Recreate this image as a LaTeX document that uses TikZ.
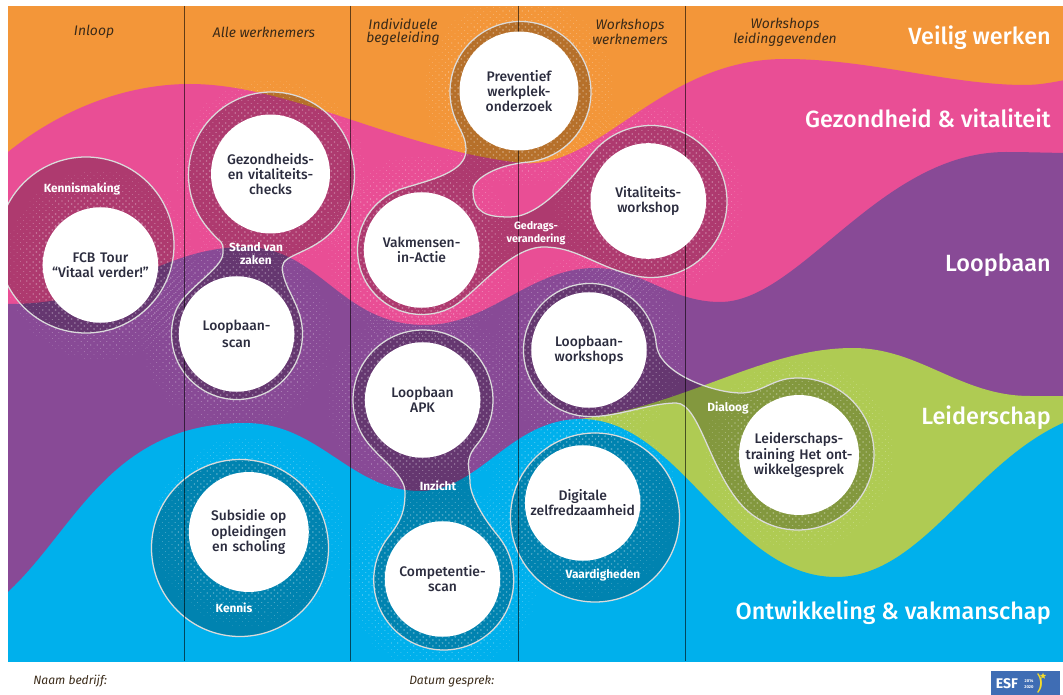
\documentclass[tikz,border=0pt]{standalone}
\usepackage{fontspec}
\usetikzlibrary{calc,shapes.geometric}
\setmainfont{Fira Sans}
\newfontfamily\medf{Fira Sans Medium}
\definecolor{corange}{HTML}{F39639}
\definecolor{cpink}{HTML}{E94E95}
\definecolor{cpurple}{HTML}{884A96}
\definecolor{cblue}{HTML}{00B0EC}
\definecolor{cgreen}{HTML}{AFCB53}
\definecolor{cink}{HTML}{2B2C3E}
\definecolor{chead}{HTML}{3A2A18}
\definecolor{cesf}{HTML}{3F6DB4}
\definecolor{cstar}{HTML}{F5DC2A}
\tikzset{
  blobfill/.style={fill=black,fill opacity=.25,draw=none},
  blobline/.style={draw=white!86!black,line width=.95pt},
  wcirc/.style={circle,fill=white,minimum size=86.6pt,inner sep=0pt,align=center,text=cink,
     font=\medf\fontsize{10.4pt}{11.3pt}\selectfont,text width=84pt},
  tag/.style={text=white,align=center,inner sep=0pt,font=\bfseries\fontsize{8.9pt}{9.6pt}\selectfont},
  colhead/.style={text=chead,align=center,inner sep=0pt,font=\itshape\fontsize{10.4pt}{9.8pt}\selectfont},
  bighead/.style={text=white,anchor=east,inner sep=0pt,font=\medf\fontsize{17.6pt}{20pt}\selectfont},
  foot/.style={text=chead,anchor=west,inner sep=0pt,font=\itshape\fontsize{9.05pt}{12pt}\selectfont},
  vline/.style={draw=black,draw opacity=.6,line width=.65pt}
}
% halftone dots round a white circle, on a 45-degree lattice (zero-length round-capped strokes)
\newcommand{\halo}[2]{%
  \foreach \ii in {-30,...,30}{%
    \foreach \jj in {-30,...,30}{%
      \pgfmathtruncatemacro{\parT}{mod(abs(\ii+\jj),2)}%
      \ifnum\parT=0
        \pgfmathsetmacro{\dd}{veclen(\ii*3.2,\jj*3.2)}%
        \pgfmathsetmacro{\rr}{0.9*(1-(\dd-57)/44)}%
        \ifdim\dd pt>56pt \ifdim\rr pt>0.12pt
          \pgfsetlinewidth{2*\rr pt}%
          \pgfpathmoveto{\pgfpointxy{#1+\ii*3.2}{#2+\jj*3.2}}%
          \pgfpathlineto{\pgfpointxy{#1+\ii*3.2+0.01}{#2+\jj*3.2}}%
          \pgfusepath{stroke}%
        \fi\fi
      \fi
    }%
  }%
}
\begin{document}
\begin{tikzpicture}[x=0.75pt,y=-0.75pt]
\useasboundingbox (0,0) rectangle (1063,695);
\begin{scope}
\clip (8,6) rectangle (1063,661);
\fill[corange] (8,6) rectangle (1063,661);
% pink band
\fill[cpink] (-10,166) -- (8,152) .. controls (60,110) and (125,84) .. (190,84)
  .. controls (290,84) and (400,150) .. (522,163)
  .. controls (600,170) and (660,59) .. (785,59)
  .. controls (870,59) and (950,85) .. (1025,85)
  .. controls (1040,85) and (1055,82) .. (1075,78) -- (1075,670) -- (-10,670) -- cycle;
% purple band
\fill[cpurple] (-10,304) -- (8,304) .. controls (120,304) and (160,247) .. (245,247)
  .. controls (320,247) and (340,325) .. (425,325)
  .. controls (490,325) and (530,268) .. (595,268)
  .. controls (640,268) and (670,302) .. (720,302)
  .. controls (800,302) and (880,152) .. (1006,152)
  .. controls (1030,152) and (1050,153) .. (1075,153) -- (1075,670) -- (-10,670) -- cycle;
% green band
\fill[cgreen] (570,420) .. controls (680,410) and (760,348) .. (853,348)
  .. controls (920,348) and (960,396) .. (1030,396)
  .. controls (1045,396) and (1060,396) .. (1075,396) -- (1075,670) -- (570,670) -- cycle;
% blue band
\fill[cblue] (-10,608) -- (8,592) .. controls (75,530) and (110,423) .. (245,423)
  .. controls (320,423) and (350,491) .. (420,491)
  .. controls (480,491) and (510,419) .. (581,419)
  .. controls (680,419) and (730,577) .. (836,577)
  .. controls (925,577) and (975,455) .. (1075,418) -- (1075,670) -- (-10,670) -- cycle;

\coordinate (cFcb) at (86,245);
\coordinate (cGez) at (271.5,175);
\coordinate (cLps) at (237,334);
\coordinate (cPre) at (520.5,92);
\coordinate (cVak) at (422,250);
\coordinate (cVit) at (651,201.5);
\coordinate (cApk) at (423,400);
\coordinate (cCom) at (443.7,580);
\coordinate (cLpw) at (590,350);
\coordinate (cLei) at (798,454);
\coordinate (cSub) at (240,548);
\coordinate (cDig) at (595,517.5);

\tikzset{
 pFcb/.style={insert path={(cFcb) circle[radius=88]}},
 pSub/.style={insert path={(cSub) circle[radius=88.5]}},
 pDig/.style={insert path={(cDig) circle[radius=84.5]}},
 pGez/.style={insert path={
   ($(cGez)+(140:83)$) arc[start angle=140,end angle=395,radius=83]
   .. controls +(125:38) and +(270:14) .. (282.3,267)
   .. controls +(90:16) and +(255:20) .. ($(cLps)+(-15:65.5)$)
   arc[start angle=-15,end angle=200,radius=65.5]
   .. controls +(290:24) and +(90:16) .. (223,253)
   .. controls +(270:14) and +(50:24) .. ($(cGez)+(140:83)$) -- cycle}},
 pApk/.style={insert path={
   ($(cApk)+(146:70)$) arc[start angle=146,end angle=400,radius=70]
   .. controls +(130:20) and +(270:14) .. (470,482)
   .. controls +(90:14) and +(230:20) .. ($(cCom)+(-40:70)$)
   arc[start angle=-40,end angle=218,radius=70]
   .. controls +(308:22) and +(90:18) .. (405,492)
   .. controls +(270:18) and +(56:22) .. ($(cApk)+(146:70)$) -- cycle}},
 pLpw/.style={insert path={
   ($(cLpw)+(95:66.5)$) arc[start angle=95,end angle=355,radius=66.5]
   .. controls +(85:30) and +(180:26) .. (740.7,393)
   .. controls +(0:20) and +(175:20) .. ($(cLei)+(265:76)$)
   arc[start angle=265,end angle=490,radius=76]
   .. controls +(220:50) and +(0:25) .. (676,403)
   .. controls +(180:28) and +(5:30) .. ($(cLpw)+(95:66.5)$) -- cycle}},
 pVak/.style={insert path={
   ($(cVak)+(253:64.5)$)
   .. controls +(343:30) and +(90:22) .. (466,150)
   .. controls +(270:12) and +(66.5:12) .. ($(cPre)+(156.5:70.5)$)
   arc[start angle=156.5,end angle=445,radius=70.5]
   .. controls +(175:28) and +(270:12) .. (473,190)
   .. controls +(90:24) and +(180:22) .. (510,217)
   .. controls +(0:30) and +(130:32) .. ($(cVit)+(220:76)$)
   arc[start angle=220,end angle=465,radius=76]
   .. controls +(195:40) and +(0:32) .. (543.6,247)
   .. controls +(180:34) and +(330:24) .. ($(cVak)+(60:64.5)$)
   arc[start angle=60,end angle=253,radius=64.5] -- cycle}}
}
% darker fills
\path[blobfill,pFcb];
\path[blobfill,pSub];
\path[blobfill,pDig];
\path[blobfill,pGez];
\path[blobfill,pApk];
\path[blobfill,pLpw];
\path[blobfill,pVak];
% halftone
\begin{scope}
\pgfsetstrokecolor{white}\pgfsetstrokeopacity{.3}\pgfsetroundcap
\halo{100.4}{265}
\halo{270.5}{174}
\halo{236.6}{334}
\halo{519}{91}
\halo{421.6}{250}
\halo{648.3}{201}
\halo{422.6}{400}
\halo{442.5}{579}
\halo{589}{350}
\halo{799}{455}
\halo{248.8}{532}
\halo{582.7}{503}
\end{scope}
% outlines
\path[blobline,pFcb];
\path[blobline,pSub];
\path[blobline,pDig];
\path[blobline,pGez];
\path[blobline,pApk];
\path[blobline,pLpw];
\path[blobline,pVak];
% column rules
\coordinate (va) at (184,6); \coordinate (vb) at (184,661);
\draw[vline] (va) -- (vb);
\coordinate (vc) at (350.5,6); \coordinate (vd) at (350.5,661);
\draw[vline] (vc) -- (vd);
\coordinate (ve) at (518,6); \coordinate (vf) at (518,661);
\draw[vline] (ve) -- (vf);
\coordinate (vg) at (685,6); \coordinate (vh) at (685,661);
\draw[vline] (vg) -- (vh);
\end{scope}

\node[wcirc] (fcb) at (100.4,265) {FCB Tour\\“Vitaal verder!”};
\node[wcirc] (gez) at (270.5,174) {Gezondheids-\\en vitaliteits-\\checks};
\node[wcirc] (lps) at (236.6,334) {Loopbaan-\\[1pt]scan};
\node[wcirc] (pre) at (519,91) {Preventief\\werkplek-\\onderzoek};
\node[wcirc] (vak) at (421.6,250) {Vakmensen-\\in-Actie};
\node[wcirc] (vit) at (648.3,201) {Vitaliteits-\\workshop};
\node[wcirc] (apk) at (422.6,400) {Loopbaan\\APK};
\node[wcirc] (com) at (442.5,579) {Competentie-\\scan};
\node[wcirc] (lpw) at (589,350) {Loopbaan-\\workshops};
\node[wcirc] (lei) at (799,455) {Leiderschaps-\\training Het ont-\\wikkelgesprek};
\node[wcirc] (sub) at (248.8,532) {Subsidie op\\opleidingen\\en scholing};
\node[wcirc] (dig) at (582.7,503) {Digitale\\zelfredzaamheid};

\node[tag] (t1) at (82,189) {Kennismaking};
\node[tag] (t2) at (256,253.5) {Stand van\\zaken};
\node[tag,font=\bfseries\fontsize{8pt}{9.6pt}\selectfont] (t3) at (536,233) {Gedrags-\\verandering};
\node[tag] (t4) at (728,408) {Dialoog};
\node[tag] (t5) at (438,486) {Inzicht};
\node[tag] (t6) at (234,608) {Kennis};
\node[tag] (t7) at (603,575) {Vaardigheden};

\node[colhead] (h1) at (94,32) {Inloop};
\node[colhead] (h2) at (264,32) {Alle werknemers};
\node[colhead] (h3) at (403,32) {Individuele\\begeleiding};
\node[colhead] (h4) at (630,32) {Workshops\\werknemers};
\node[colhead] (h5) at (785,32) {Workshops\\leidinggevenden};

\node[bighead] (b1) at (1051,38) {Veilig werken};
\node[bighead] (b2) at (1051,118) {Gezondheid \& vitaliteit};
\node[bighead] (b3) at (1051,265) {Loopbaan};
\node[bighead] (b4) at (1051,418) {Leiderschap};
\node[bighead] (b5) at (1051,613) {Ontwikkeling \& vakmanschap};

\node[foot] (f1) at (33,681) {Naam bedrijf:};
\node[foot] (f2) at (409,681) {Datum gesprek:};

% ESF logo
\begin{scope}
\clip (0,0) rectangle (1063,695);
\fill[cesf] (991,671) rectangle (1060,695);
\node[text=white,inner sep=0pt,font=\bfseries\fontsize{10.5pt}{12pt}\selectfont] (esf) at (1007,684) {ESF};
\node[text=white,inner sep=0pt,align=center,font=\bfseries\fontsize{3.1pt}{4pt}\selectfont] (esy) at (1029,684) {2014\\2020};
\node[text=cstar,inner sep=0pt,font=\fontsize{15pt}{15pt}\selectfont] (esb) at (1039.5,683) {)};
\node[star,star points=5,star point ratio=2.4,fill=cstar,inner sep=0pt,minimum size=5pt] (est) at (1043,676) {};
\end{scope}
\end{tikzpicture}
\end{document}
